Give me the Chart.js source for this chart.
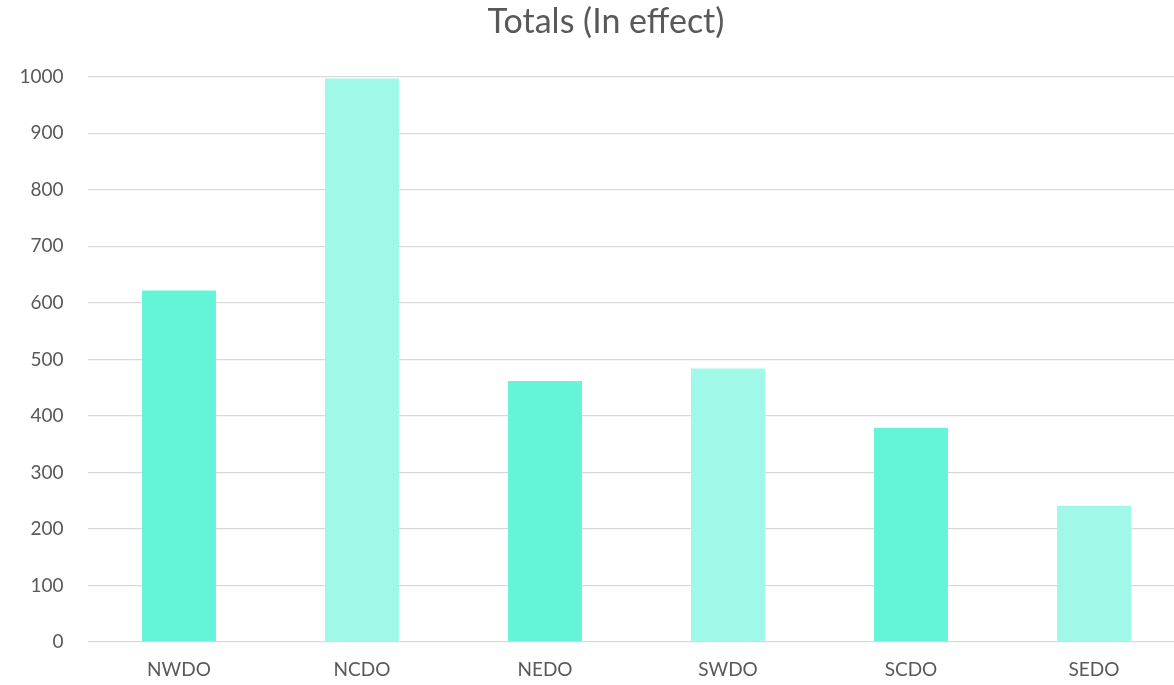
<!DOCTYPE html>
<html>
<head>
<meta charset="utf-8">
<title>Totals (In effect)</title>
<script src="https://cdn.jsdelivr.net/npm/chart.js@4"></script>
<style>
  html, body { margin: 0; padding: 0; background: #fff; overflow: hidden; }
  #wrap { width: 1174px; height: 685px; overflow: hidden; }
  #box { width: 1212px; height: 685px; }
</style>
</head>
<body>
<div id="wrap"><div id="box"><canvas id="totalsChart"></canvas></div></div>
<script>
// data
const offices = ['NWDO', 'NCDO', 'NEDO', 'SWDO', 'SCDO', 'SEDO'];
const totalsInEffect = [622, 997, 462, 484, 379, 241];
const barColors = ['#64F5D9', '#A0F8E8', '#64F5D9', '#A0F8E8', '#64F5D9', '#A0F8E8'];
const yTicks = [0, 100, 200, 300, 400, 500, 600, 700, 800, 900, 1000];

const textColor = '#595959';
const gridColor = '#D9D9D9';
const fontFamily = 'Lato, "Open Sans", sans-serif';

const ctx = document.getElementById('totalsChart').getContext('2d');

// the y labels spill into the left padding, so widen the axis box after layout
// (only its clip area changes, the labels stay right-aligned to the axis)
const unclipYLabels = {
    id: 'unclipYLabels',
    afterLayout: function(chart) {
        chart.scales.y.left = 0;
    }
};

new Chart(ctx, {
    type: 'bar',
    data: {
        labels: offices,
        datasets: [{
            label: 'Totals (In effect)',
            data: totalsInEffect,
            backgroundColor: barColors,
            borderWidth: 0,
            barPercentage: 0.404,
            categoryPercentage: 1
        }]
    },
    plugins: [unclipYLabels],
    options: {
        responsive: true,
        maintainAspectRatio: false,
        animation: false,
        layout: {
            // equal side padding keeps the title centred on the full (cropped) chart
            padding: { left: 26.5, right: 26.5, top: 0, bottom: 0 }
        },
        plugins: {
            legend: { display: false },
            tooltip: { enabled: false },
            title: {
                display: true,
                text: 'Totals (In effect)',
                color: textColor,
                font: { family: fontFamily, size: 34, weight: 'normal', lineHeight: 1.2 },
                padding: { top: 2, bottom: 34 }
            }
        },
        scales: {
            x: {
                grid: { display: false, drawTicks: false },
                border: { display: false },
                ticks: {
                    color: textColor,
                    font: { family: fontFamily, size: 19 },
                    padding: 16,
                    maxRotation: 0
                },
                afterFit: function(scale) { scale.height = 43; }
            },
            y: {
                min: 0,
                max: 1000,
                afterBuildTicks: function(scale) {
                    scale.ticks = yTicks.map(v => ({ value: v }));
                },
                grid: { color: gridColor, lineWidth: 1.3, drawTicks: false },
                border: { display: false },
                ticks: {
                    color: textColor,
                    font: { family: fontFamily, size: 19 },
                    padding: 24,
                    callback: function(value) { return String(value); }
                },
                afterFit: function(scale) { scale.width = 61; }
            }
        }
    }
});
</script>
</body>
</html>
